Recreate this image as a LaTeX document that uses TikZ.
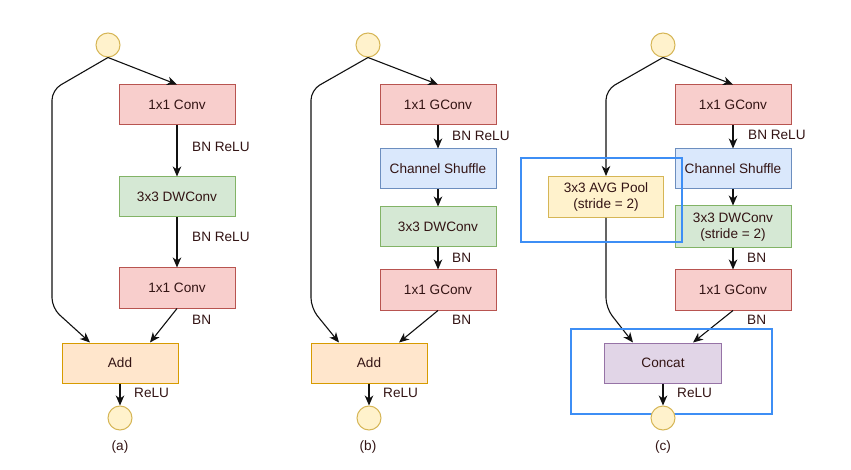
\documentclass[tikz,border=0pt]{standalone}
\usepackage{fontspec}
\setmainfont{Liberation Sans}
\usetikzlibrary{arrows.meta}
\definecolor{txt}{RGB}{51,20,20}
\definecolor{redf}{HTML}{F8CECC}\definecolor{redd}{HTML}{B85450}
\definecolor{grnf}{HTML}{D5E8D4}\definecolor{grnd}{HTML}{82B366}
\definecolor{bluf}{HTML}{DAE8FC}\definecolor{blud}{HTML}{6C8EBF}
\definecolor{orgf}{HTML}{FFE6CC}\definecolor{orgd}{HTML}{D79B00}
\definecolor{yelf}{HTML}{FFF2CC}\definecolor{yeld}{HTML}{D6B656}
\definecolor{purf}{HTML}{E1D5E7}\definecolor{purd}{HTML}{9673A6}
\definecolor{hil}{HTML}{3D8EF5}
\definecolor{edge}{HTML}{111111}
\begin{document}
\begin{tikzpicture}[x=1pt,y=-1pt,
  every node/.style={font=\fontsize{13.6}{15.5}\selectfont, text=txt},
  blk/.style={draw, line width=1pt, minimum width=116pt, minimum height=40pt, inner sep=0pt, align=center},
  redbox/.style={blk, fill=redf, draw=redd},
  grnbox/.style={blk, fill=grnf, draw=grnd},
  blubox/.style={blk, fill=bluf, draw=blud},
  orgbox/.style={blk, fill=orgf, draw=orgd},
  yelbox/.style={blk, fill=yelf, draw=yeld, minimum width=115pt, minimum height=41pt},
  purbox/.style={blk, fill=purf, draw=purd, minimum width=117pt},
  io/.style={circle, draw=yeld, fill=yelf, line width=1pt, minimum size=24pt, inner sep=0pt},
  lbl/.style={anchor=west, inner sep=0pt},
  arr/.style={draw=edge, line width=1.1pt, -{Stealth[length=10pt,width=8.5pt,inset=3pt]}},
  skip/.style={arr, rounded corners=10pt},
  hbox/.style={draw=hil, line width=2pt}
]
\useasboundingbox[fill=white] (0,0) rectangle (851,470);

% ---------------- (a)
\node[io] (ai) at (108,45) {};
\node[redbox] (ac1) at (177,105) {1x1 Conv};
\node[grnbox] (adw) at (177,197) {3x3 DWConv};
\node[redbox] (ac2) at (177,288) {1x1 Conv};
\node[orgbox] (aadd) at (120,363) {Add};
\node[io] (ao) at (120,418) {};
\node (acap) at (120,447) {(a)};
\draw[arr] (ai.south) -- (ac1.north);
\draw[arr] (ac1) -- (adw);
\draw[arr] (adw) -- (ac2);
\draw[arr] (ac2.south) -- ([xshift=30pt]aadd.north);
\draw[skip] (ai.south) -- (52,90) -- (52,308) -- ([xshift=-30pt]aadd.north);
\draw[arr] (aadd) -- (ao);
\node[lbl] (al1) at (192,147) {BN ReLU};
\node[lbl] (al2) at (192,237) {BN ReLU};
\node[lbl] (al3) at (192,320) {BN};
\node[lbl] (al4) at (134,393) {ReLU};

% ---------------- (b)
\node[io] (bi) at (368,45) {};
\node[redbox] (bc1) at (438,105) {1x1 GConv};
\node[blubox] (bsh) at (438,169) {Channel Shuffle};
\node[grnbox] (bdw) at (438,227) {3x3 DWConv};
\node[redbox] (bc2) at (438,290) {1x1 GConv};
\node[orgbox] (badd) at (369,363) {Add};
\node[io] (bo) at (369,418) {};
\node (bcap) at (368,447) {(b)};
\draw[arr] (bi.south) -- (bc1.north);
\draw[arr] (bc1) -- (bsh);
\draw[arr] (bsh) -- (bdw);
\draw[arr] (bdw) -- (bc2);
\draw[arr] (bc2.south) -- ([xshift=30pt]badd.north);
\draw[skip] (bi.south) -- (311,90) -- (311,308) -- ([xshift=-30pt]badd.north);
\draw[arr] (badd) -- (bo);
\node[lbl] (bl1) at (452,136) {BN ReLU};
\node[lbl] (bl2) at (452,258) {BN};
\node[lbl] (bl3) at (452,320) {BN};
\node[lbl] (bl4) at (383,393) {ReLU};

% ---------------- (c)
\node[io] (ci) at (663,45) {};
\node[redbox] (cc1) at (733,105) {1x1 GConv};
\node[blubox] (csh) at (733,169) {Channel Shuffle};
\node[grnbox, minimum height=42pt] (cdw) at (733,227) {3x3 DWConv\\(stride = 2)};
\node[redbox] (cc2) at (733,290) {1x1 GConv};
\node[yelbox] (cpool) at (606,197) {3x3 AVG Pool\\(stride = 2)};
\node[purbox] (ccat) at (663,363) {Concat};
\node (ccap) at (663,447) {(c)};
\draw[arr] (ci.south) -- (cc1.north);
\draw[arr] (cc1) -- (csh);
\draw[arr] (csh) -- (cdw);
\draw[arr] (cdw) -- (cc2);
\draw[arr] (cc2.south) -- ([xshift=30pt]ccat.north);
\draw[skip] (ci.south) -- (606,90) -- (cpool.north);
\draw[skip] (cpool.south) -- (606,308) -- ([xshift=-30pt]ccat.north);
\node[lbl] (cl1) at (748,135) {BN ReLU};
\node[lbl] (cl2) at (747,258) {BN};
\node[lbl] (cl3) at (747,320) {BN};
\node[lbl] (cl4) at (677,393) {ReLU};
\draw[hbox] (521,158) rectangle (682,242);
\draw[hbox] (571,329) rectangle (772,414);
\node[io] (co) at (663,418) {};
\draw[arr] (ccat) -- (co);
\end{tikzpicture}
\end{document}
